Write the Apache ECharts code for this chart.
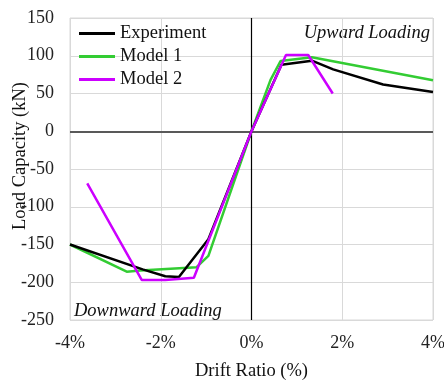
<!DOCTYPE html>
<html>
<head>
<meta charset="utf-8">
<script src="https://cdn.jsdelivr.net/npm/echarts@6/dist/echarts.min.js"></script>
<style>
  html, body { margin: 0; padding: 0; background: #fff; }
  #chart { width: 444px; height: 383px; }
</style>
</head>
<body>
<div id="chart"></div>
<script>
// Drift ratio (%) and load capacity (kN) for each curve
const experimentDrift = [-4.0, -2.4, -1.9, -1.6, -0.95, 0, 0.66, 1.33, 1.8, 2.9, 4.0];
const experimentLoad  = [-150, -183, -192, -193, -143, 0, 88, 93.5, 82, 62, 52];

const model1Drift = [-4.0, -2.75, -2.45, -1.21, -0.95, 0, 0.42, 0.64, 1.33, 4.0];
const model1Load  = [-150, -186, -184.5, -180, -165, 0, 68, 93, 98, 67.5];

const model2Drift = [-3.62, -2.42, -1.9, -1.27, 0, 0.76, 1.25, 1.79];
const model2Load  = [-69, -197, -197, -194, 0, 101, 101, 50];

const xTicks = { min: -4, max: 4, step: 2 };
const yTicks = { min: -250, max: 150, step: 50 };

const pairs = (xs, ys) => xs.map((x, i) => [x, ys[i]]);

const font = 'Liberation Serif';
const chart = echarts.init(document.getElementById('chart'));

chart.setOption({
  animation: false,
  backgroundColor: '#fff',
  grid: {
    left: 70, right: 11, top: 18, bottom: 63,
    containLabel: false, outerBoundsMode: 'none',
    show: true, borderColor: '#d9d9d9', borderWidth: 1
  },
  legend: {
    orient: 'vertical',
    left: 74, top: 19,
    itemWidth: 36, itemHeight: 3, itemGap: 4,
    icon: 'rect',
    textStyle: { fontFamily: font, fontSize: 18.5, color: '#111' },
    data: ['Experiment', 'Model 1', 'Model 2']
  },
  xAxis: {
    type: 'value',
    min: xTicks.min, max: xTicks.max, interval: xTicks.step,
    axisLine: { show: false },
    axisTick: { show: false },
    splitLine: { lineStyle: { color: '#d9d9d9', width: 1 } },
    axisLabel: { formatter: v => v + '%', fontFamily: font, fontSize: 18, color: '#222', margin: 14 },
    name: 'Drift Ratio (%)', nameLocation: 'middle', nameGap: 42, nameMoveOverlap: false,
    nameTextStyle: { fontFamily: font, fontSize: 18.5, color: '#111' }
  },
  yAxis: {
    type: 'value',
    min: yTicks.min, max: yTicks.max, interval: yTicks.step,
    axisLine: { show: false },
    axisTick: { show: false },
    splitLine: { lineStyle: { color: '#d9d9d9', width: 1 } },
    axisLabel: { fontFamily: font, fontSize: 18, color: '#222', margin: 16 }
  },
  graphic: [
    { type: 'text', x: 20, y: 156, rotation: Math.PI / 2,
      style: { text: 'Load Capacity (kN)', font: '18.5px "Liberation Serif"', fill: '#111',
               align: 'center', verticalAlign: 'middle' } },
    { type: 'text', right: 14, top: 24,
      style: { text: 'Upward Loading', font: 'italic 18.5px "Liberation Serif"', fill: '#111' } },
    { type: 'text', left: 74, top: 302,
      style: { text: 'Downward Loading', font: 'italic 18.5px "Liberation Serif"', fill: '#111' } }
  ],
  series: [
    {
      name: 'Model 1', type: 'line', z: 3, showSymbol: false, symbol: 'none',
      data: pairs(model1Drift, model1Load),
      lineStyle: { color: '#33cc33', width: 2.5 }, itemStyle: { color: '#33cc33' },
      markLine: {
        silent: true, symbol: 'none', label: { show: false }, z: 1,
        data: [
          { yAxis: 0, lineStyle: { color: '#595959', width: 2, type: 'solid' } },
          { xAxis: 0, lineStyle: { color: '#000', width: 1.2, type: 'solid' } }
        ]
      }
    },
    {
      name: 'Experiment', type: 'line', z: 4, showSymbol: false, symbol: 'none',
      data: pairs(experimentDrift, experimentLoad),
      lineStyle: { color: '#000', width: 2.5 }, itemStyle: { color: '#000' }
    },
    {
      name: 'Model 2', type: 'line', z: 5, showSymbol: false, symbol: 'none',
      data: pairs(model2Drift, model2Load),
      lineStyle: { color: '#cc00ff', width: 2.5 }, itemStyle: { color: '#cc00ff' }
    }
  ]
});
</script>
</body>
</html>
